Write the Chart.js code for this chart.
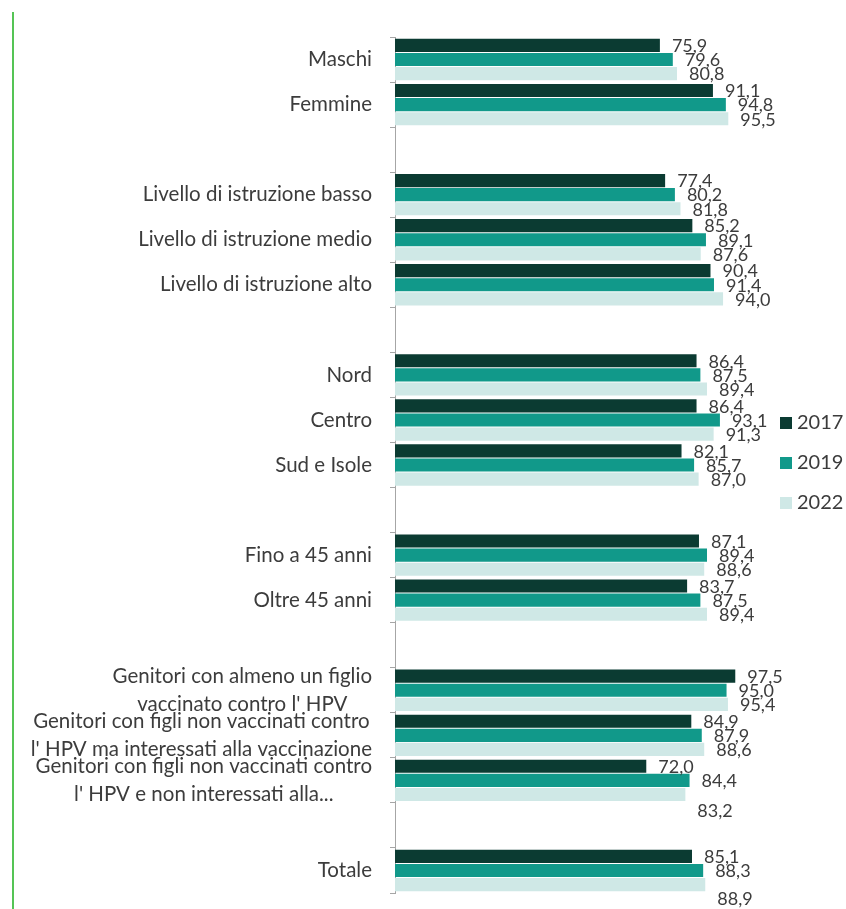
<!DOCTYPE html>
<html lang="it">

<head>
    <meta charset="UTF-8">
    <title>Vaccinazione HPV</title>
    <script src="https://cdn.jsdelivr.net/npm/chart.js@4.4.1/dist/chart.umd.min.js"></script>
    <style>
        body { margin: 0; background: #fff; }
        .wrap { position: relative; width: 846px; height: 909px; }
        .side-rule { position: absolute; left: 12px; top: 12px; width: 2px; height: 897px; background: #55c455; }
        canvas { position: absolute; left: 0; top: 0; }
    </style>
</head>

<body>

    <div class="wrap">
        <div class="side-rule"></div>
        <canvas id="chart" width="846" height="909"></canvas>
    </div>

    <script>

    // categories (empty strings are spacer rows between groups)
    const categories = [
        'Maschi', 'Femmine', '',
        'Livello di istruzione basso', 'Livello di istruzione medio', 'Livello di istruzione alto', '',
        'Nord', 'Centro', 'Sud e Isole', '',
        'Fino a 45 anni', 'Oltre 45 anni', '',
        ['Genitori con almeno un figlio', "vaccinato contro l' HPV"],
        ['Genitori con figli non vaccinati contro', "l' HPV ma interessati alla vaccinazione"],
        ['Genitori con figli non vaccinati contro', "l' HPV e non interessati alla..."],
        '',
        'Totale'
    ];

    const years = ['2017', '2019', '2022'];

    const y2017 = [75.9, 91.1, null, 77.4, 85.2, 90.4, null, 86.4, 86.4, 82.1, null, 87.1, 83.7, null, 97.5, 84.9, 72.0, null, 85.1];
    const y2019 = [79.6, 94.8, null, 80.2, 89.1, 91.4, null, 87.5, 93.1, 85.7, null, 89.4, 87.5, null, 95.0, 87.9, 84.4, null, 88.3];
    const y2022 = [80.8, 95.5, null, 81.8, 87.6, 94.0, null, 89.4, 91.3, 87.0, null, 88.6, 89.4, null, 95.4, 88.6, 83.2, null, 88.9];

    const colors = ['#0b3b32', '#11998a', '#cfe8e6'];
    const textColor = '#3c3c3c';
    const fontName = 'Lato, "Open Sans", sans-serif';

    // value labels at the end of each bar, decimal comma
    const barValues = {
        id: 'barValues',
        afterDatasetsDraw(chart, args, opts) {
            const ctx = chart.ctx;
            ctx.save();
            ctx.font = opts.size + 'px ' + fontName;
            ctx.fillStyle = textColor;
            ctx.textAlign = 'left';
            ctx.textBaseline = 'middle';
            chart.data.datasets.forEach((ds, di) => {
                const meta = chart.getDatasetMeta(di);
                meta.data.forEach((bar, i) => {
                    const v = ds.data[i];
                    if (v == null) return;
                    const shift = (opts.shift[di] && opts.shift[di][i]) || 0;
                    ctx.fillText(v.toFixed(1).replace('.', ','), bar.x + opts.offset, bar.y + 1 + shift);
                });
            });
            ctx.restore();
        }
    };

    // category names: right aligned block, wrapped lines centred inside it
    const categoryNames = {
        id: 'categoryNames',
        afterDraw(chart, args, opts) {
            const ctx = chart.ctx;
            const scale = chart.scales.y;
            const right = chart.chartArea.left - opts.gap;
            ctx.save();
            ctx.font = opts.size + 'px ' + fontName;
            ctx.fillStyle = textColor;
            ctx.textAlign = 'center';
            ctx.textBaseline = 'middle';
            categories.forEach((label, i) => {
                const lines = Array.isArray(label) ? label : [label];
                if (!lines[0]) return;
                const w = Math.max(...lines.map(l => ctx.measureText(l).width));
                const cy = scale.getPixelForTick(i);
                lines.forEach((line, k) => {
                    const ly = cy + (k - (lines.length - 1) / 2) * opts.lineHeight;
                    ctx.fillText(line, right - w / 2, ly);
                });
            });
            ctx.restore();
        }
    };

    // legend drawn to the right of the plot
    const sideLegend = {
        id: 'sideLegend',
        afterDraw(chart, args, opts) {
            const ctx = chart.ctx;
            const area = chart.chartArea;
            const cy = (area.top + area.bottom) / 2 - 2;
            ctx.save();
            ctx.font = opts.size + 'px ' + fontName;
            ctx.textAlign = 'left';
            ctx.textBaseline = 'middle';
            chart.data.datasets.forEach((ds, i) => {
                const y = cy + (i - 1) * opts.step;
                const x = area.right + opts.offset;
                ctx.fillStyle = ds.backgroundColor;
                ctx.fillRect(x, y - opts.box / 2, opts.box, opts.box);
                ctx.fillStyle = textColor;
                ctx.fillText(ds.label, x + opts.box + 5, y);
            });
            ctx.restore();
        }
    };

    const ctx = document.getElementById('chart').getContext('2d');

    const myChart = new Chart(ctx, {
        type: 'bar',
        data: {
            labels: categories,
            datasets: years.map((yr, i) => ({
                label: yr,
                data: [y2017, y2019, y2022][i],
                backgroundColor: colors[i],
                borderWidth: 0,
                categoryPercentage: 0.94,
                barPercentage: 0.93
            }))
        },
        options: {
            indexAxis: 'y',
            responsive: false,
            animation: false,
            layout: {
                padding: { top: 37, bottom: 16, left: 0, right: 102 }
            },
            scales: {
                x: {
                    display: false,
                    min: 0,
                    max: 100
                },
                y: {
                    afterFit(scale) { scale.width = 395; },
                    ticks: { display: false },
                    grid: {
                        drawOnChartArea: false,
                        drawTicks: true,
                        tickLength: 5,
                        color: '#a6a6a6'
                    },
                    border: { color: '#a6a6a6', width: 1 }
                }
            },
            plugins: {
                legend: { display: false },
                tooltip: { enabled: false },
                barValues: { size: 18, offset: 12, shift: { 2: { 16: 16, 18: 14 } } },
                categoryNames: { size: 20.5, gap: 23, lineHeight: 28 },
                sideLegend: { size: 20, box: 12, step: 40, offset: 36 }
            }
        },
        plugins: [barValues, categoryNames, sideLegend]
    });

    </script>

</body>

</html>
